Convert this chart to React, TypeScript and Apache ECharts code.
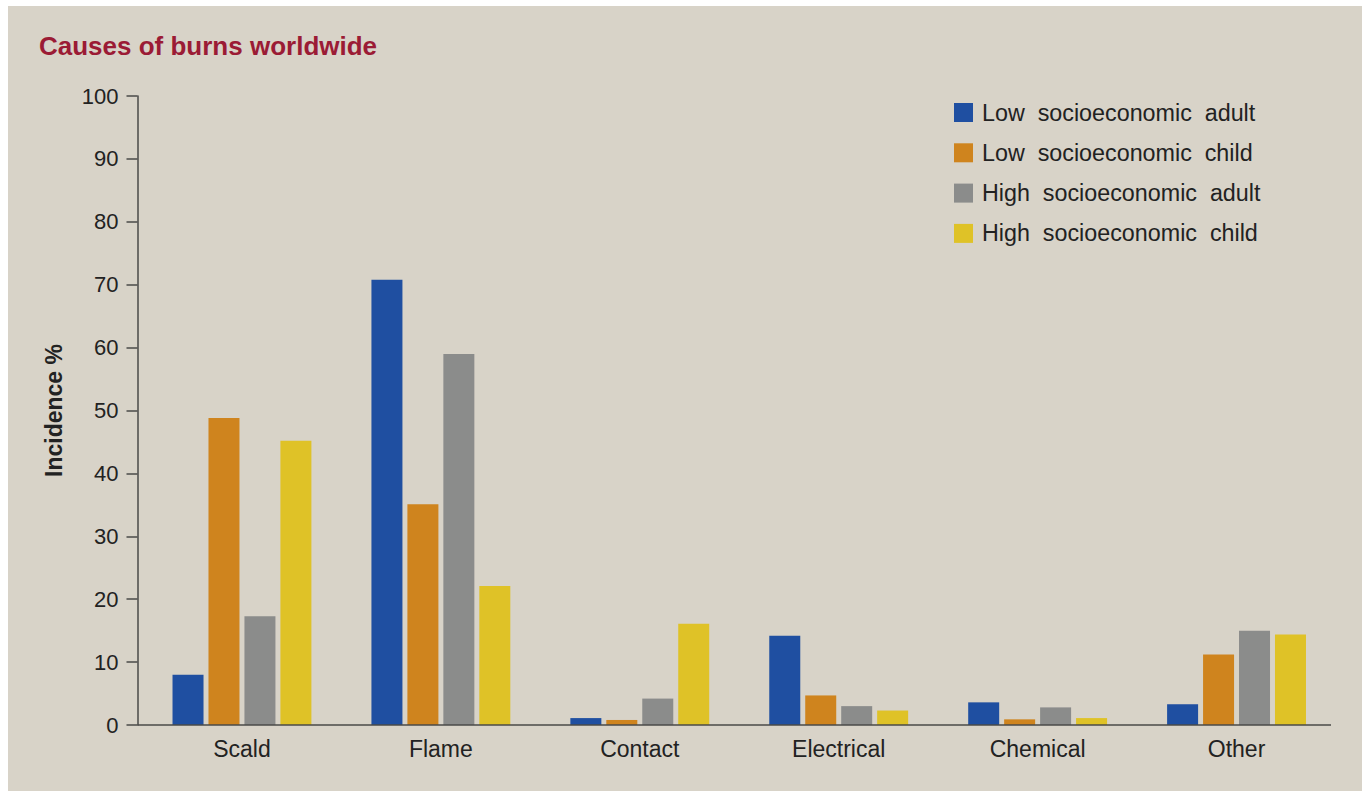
import React, { useEffect, useRef } from "react";
import * as echarts from "echarts";

const categories = ["Scald", "Flame", "Contact", "Electrical", "Chemical", "Other"];
const seriesNames = [
  "Low  socioeconomic  adult",
  "Low  socioeconomic  child",
  "High  socioeconomic  adult",
  "High  socioeconomic  child",
];
const lowAdult = [8, 70.8, 1.1, 14.2, 3.6, 3.3];
const lowChild = [48.8, 35.1, 0.8, 4.7, 0.9, 11.2];
const highAdult = [17.3, 59, 4.2, 3.0, 2.8, 15.0];
const highChild = [45.2, 22.1, 16.1, 2.3, 1.1, 14.4];
const colors = ["#1f4fa1", "#cf841e", "#8b8c8b", "#dfc227"];

const FONT = "'Liberation Sans', Arial, Helvetica, sans-serif";

export default function App() {
  const ref = useRef<HTMLDivElement>(null);
  useEffect(() => {
    if (!ref.current) return;
    const chart = echarts.init(ref.current, undefined, { renderer: "svg" });
    const values = [lowAdult, lowChild, highAdult, highChild];
    chart.setOption({
      animation: false,
      textStyle: { fontFamily: FONT },
      title: {
        text: "Causes of burns worldwide",
        left: 34,
        top: 28,
        textStyle: { color: "#9b1b35", fontSize: 26, fontWeight: "bold", fontFamily: FONT },
      },
      legend: {
        orient: "vertical",
        left: 954,
        top: 101,
        padding: 0,
        itemWidth: 19,
        itemHeight: 19,
        itemGap: 17.3,
        icon: "rect",
        data: seriesNames,
        textStyle: {
          fontSize: 23.3,
          color: "#222",
          fontFamily: FONT,
          lineHeight: 19,
          height: 19,
          padding: [0, 0, 0, 4],
        },
      },
      grid: { left: 142.5, right: 27, top: 96, bottom: 66 },
      xAxis: {
        type: "category",
        data: categories,
        axisLine: { show: false },
        axisTick: { show: false },
        axisLabel: { fontSize: 23, color: "#222", margin: 12, fontFamily: FONT },
      },
      yAxis: {
        type: "value",
        min: 0,
        max: 100,
        interval: 10,
        offset: 5,
        name: "Incidence %",
        nameLocation: "middle",
        nameGap: 72,
        nameTextStyle: { fontSize: 23, fontWeight: "bold", color: "#222", fontFamily: FONT },
        axisLine: { show: true, lineStyle: { color: "#4a4a48", width: 1.5 } },
        axisTick: { show: true, length: 11, lineStyle: { color: "#4a4a48", width: 1.5 } },
        axisLabel: { fontSize: 22, color: "#222", margin: 19, fontFamily: FONT },
        splitLine: { show: false },
      },
      graphic: [
        {
          type: "line",
          shape: { x1: 137.5, y1: 725, x2: 1331, y2: 725 },
          style: { stroke: "#4a4a48", lineWidth: 1.5 },
          z: 10,
        },
      ],
      series: seriesNames.map((name, i) => ({
        name,
        type: "bar",
        data: values[i],
        barWidth: 31,
        barGap: "16%",
        itemStyle: { color: colors[i] },
      })),
    });
    return () => chart.dispose();
  }, []);
  return (
    <div style={{ position: "absolute", left: 0, top: 0, width: 1363, height: 791, background: "#fff" }}>
      <div
        style={{ position: "absolute", left: 8, top: 6, width: 1354, height: 785, background: "#d8d3c8" }}
      />
      <div ref={ref} style={{ position: "absolute", left: 0, top: 0, width: 1363, height: 791 }} />
    </div>
  );
}
